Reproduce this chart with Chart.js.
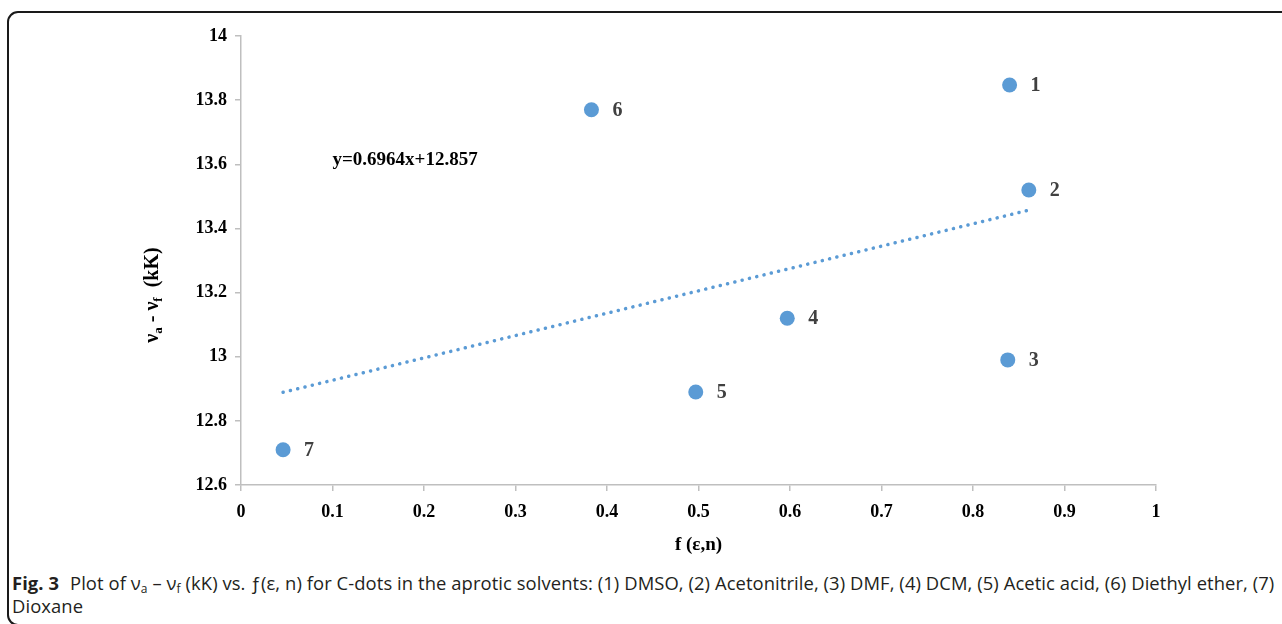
<!DOCTYPE html>
<html>
<head>
<meta charset="utf-8">
<script src="https://cdn.jsdelivr.net/npm/chart.js@4.4.1/dist/chart.umd.min.js"></script>
<style>
  html, body { margin: 0; padding: 0; background: #fff; overflow: hidden; }
  body { width: 1282px; height: 624px; position: relative; }
  .frame {
    position: absolute; left: 7px; top: 11px; width: 1400px; height: 611px;
    border: 2px solid #1a1a1a; border-radius: 11px; box-sizing: content-box;
  }
  #wrap { position: absolute; left: 0; top: 0; width: 1282px; height: 565px; }
  .caption {
    position: absolute; left: 12px; top: 571px;
    font-family: "Open Sans", "Noto Sans", sans-serif; font-size: 18.4px;
    line-height: 23px; color: #231f20; white-space: nowrap; letter-spacing: 0.08px;
  }
  .caption b { font-weight: 700; margin-right: 6px; }
  .caption sub { font-size: 12px; vertical-align: -3px; line-height: 0; }
</style>
</head>
<body>
<div class="frame"></div>
<div id="wrap"><canvas id="shiftChart" width="1282" height="565"></canvas></div>
<div class="caption">
  <b>Fig. 3</b> Plot of ν<sub>a</sub> – ν<sub>f</sub> (kK) vs. ƒ(ε, n) for C-dots in the aprotic solvents: (1) DMSO, (2) Acetonitrile, (3) DMF, (4) DCM, (5) Acetic acid, (6) Diethyl ether, (7)<br>Dioxane
</div>
<script>
// solvents 1..7 : f(ε,n) vs. νa - νf (kK)
const solventIds = ['1', '2', '3', '4', '5', '6', '7'];
const fValues = [0.840, 0.861, 0.838, 0.597, 0.497, 0.383, 0.046];
const shiftValues = [13.847, 13.52, 12.99, 13.12, 12.89, 13.77, 12.71];

// dotted trend line (ends)
const trendX = [0.046, 0.861];
const trendY = [12.889, 13.457];
const trendText = 'y=0.6964x+12.857';

const xTicks = [0, 0.1, 0.2, 0.3, 0.4, 0.5, 0.6, 0.7, 0.8, 0.9, 1];
const xTickLabels = ['0', '0.1', '0.2', '0.3', '0.4', '0.5', '0.6', '0.7', '0.8', '0.9', '1'];
const yTicks = [12.6, 12.8, 13, 13.2, 13.4, 13.6, 13.8, 14];
const yTickLabels = ['12.6', '12.8', '13', '13.2', '13.4', '13.6', '13.8', '14'];

const blue = '#5b9bd5';
const serif = '"Liberation Serif", "Times New Roman", serif';

// numbers next to the dots + the equation + y title with subscripts
const labelPlugin = {
    id: 'labelPlugin',
    afterDatasetsDraw(chart) {
        const ctx = chart.ctx;
        const xs = chart.scales.x, ys = chart.scales.y;
        ctx.save();
        ctx.fillStyle = '#404040';
        ctx.font = 'bold 20px ' + serif;
        ctx.textAlign = 'center';
        ctx.textBaseline = 'middle';
        solventIds.forEach((id, i) => {
            ctx.fillText(id, xs.getPixelForValue(fValues[i]) + 26, ys.getPixelForValue(shiftValues[i]) + 1);
        });

        ctx.fillStyle = '#000';
        ctx.font = 'bold 19px ' + serif;
        ctx.textAlign = 'left';
        ctx.fillText(trendText, xs.getPixelForValue(0.1), ys.getPixelForValue(13.613));

        // y axis title
        const parts = [
            { t: 'ν' }, { t: 'a', sub: true }, { t: ' - ' },
            { t: 'ν' }, { t: 'f', sub: true }, { t: '  (kK)' }
        ];
        const big = 'bold 20px ' + serif, small = 'bold 13px ' + serif;
        let total = 0;
        parts.forEach(p => { ctx.font = p.sub ? small : big; p.w = ctx.measureText(p.t).width; total += p.w; });
        ctx.translate(152, 295);
        ctx.rotate(-Math.PI / 2);
        ctx.textBaseline = 'alphabetic';
        let x = -total / 2;
        parts.forEach(p => {
            ctx.font = p.sub ? small : big;
            ctx.fillText(p.t, x, p.sub ? 10 : 6);
            x += p.w;
        });
        ctx.restore();
    }
};

const ctx = document.getElementById('shiftChart').getContext('2d');

const shiftChart = new Chart(ctx, {
    type: 'scatter',
    data: {
        datasets: [{
            label: 'solvents',
            data: fValues.map((f, i) => ({ x: f, y: shiftValues[i] })),
            backgroundColor: blue,
            borderWidth: 0,
            pointRadius: 7.5,
            order: 1
        }, {
            label: 'trend',
            data: trendX.map((x, i) => ({ x: x, y: trendY[i] })),
            showLine: true,
            borderColor: blue,
            borderWidth: 3.5,
            borderDash: [0.1, 7.4],
            borderCapStyle: 'round',
            pointRadius: 0,
            order: 2
        }]
    },
    options: {
        responsive: false,
        animation: false,
        devicePixelRatio: 1,
        layout: { padding: { top: 36, right: 126, bottom: 0, left: 0 } },
        plugins: {
            legend: { display: false },
            tooltip: { enabled: false }
        },
        scales: {
            x: {
                type: 'linear',
                min: 0, max: 1,
                afterBuildTicks: s => { s.ticks = xTicks.map(v => ({ value: v })); },
                afterFit: s => { s.height = 80; },
                border: { color: '#bfbfbf', width: 1.5 },
                grid: { drawOnChartArea: false, tickLength: 6, color: '#bfbfbf', lineWidth: 1.5 },
                ticks: {
                    color: '#000', padding: 11, maxRotation: 0,
                    font: { family: serif, size: 18, weight: 'bold' },
                    callback: (v, i) => xTickLabels[i]
                },
                title: {
                    display: true, text: 'f (ε,n)', color: '#000',
                    font: { family: serif, size: 19, weight: 'bold' },
                    padding: { top: 0, bottom: 9 }
                }
            },
            y: {
                type: 'linear',
                min: 12.6, max: 14,
                afterBuildTicks: s => { s.ticks = yTicks.map(v => ({ value: v })); },
                afterFit: s => { s.width = 241; },
                border: { color: '#bfbfbf', width: 1.5 },
                grid: { drawOnChartArea: false, tickLength: 6, color: '#bfbfbf', lineWidth: 1.5 },
                ticks: {
                    color: '#000', padding: 8,
                    font: { family: serif, size: 18, weight: 'bold' },
                    callback: (v, i) => yTickLabels[i]
                }
            }
        }
    },
    plugins: [labelPlugin]
});
</script>
</body>
</html>
